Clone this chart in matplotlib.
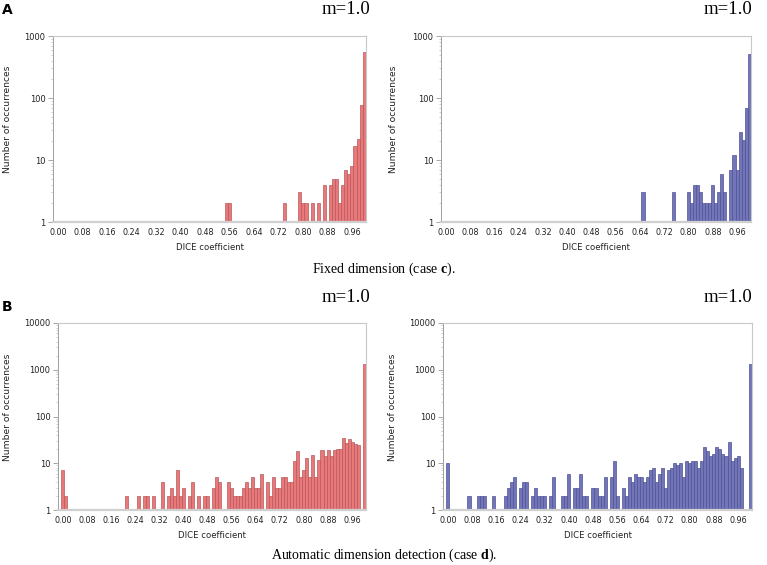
import numpy as np
import matplotlib
matplotlib.use("Agg")
import matplotlib.pyplot as plt
from matplotlib.ticker import FixedLocator, LogLocator, NullFormatter

plt.rcParams['mathtext.fontset'] = 'custom'
plt.rcParams['mathtext.rm'] = 'Liberation Serif'
plt.rcParams['mathtext.bf'] = 'Liberation Serif:bold'

# ---- data: bin index k -> DICE = k/100, counts per bin ----
bin_index = np.arange(101)
tick_index = np.arange(0, 97, 8)
tick_labels = [f"{k/100:.2f}" for k in tick_index]

# panel A left (fixed dimension, red)
a_left_bins = [55, 56, 74, 79, 80, 81, 83, 85, 87, 89, 90, 91, 92, 93, 94, 95, 96, 97, 98, 99, 100]
a_left_vals = [2, 2, 2, 3, 2, 2, 2, 2, 4, 4, 5, 5, 2, 4, 7, 6, 8, 17, 22, 78, 550]

# panel A right (fixed dimension, blue)
a_right_bins = [65, 75, 80, 81, 82, 83, 84, 85, 86, 87, 88, 89, 90, 91, 92, 94, 95, 96, 97, 98, 99, 100]
a_right_vals = [3, 3, 3, 2, 4, 4, 3, 2, 2, 2, 4, 2, 3, 6, 3, 7, 12, 7, 28, 21, 68, 520]

# panel B left (automatic dimension, red)
b_left_bins = [0, 1, 21, 25, 27, 28, 30, 33, 35, 36, 37, 38, 39, 40, 42, 43, 45, 47, 48,
               50, 51, 52, 55, 56, 57, 58, 59, 60, 61, 62, 63, 64, 65, 66, 68, 69,
               70, 71, 72, 73, 74, 75, 76, 77, 78, 79, 80, 81, 82, 83, 84, 85, 86, 87,
               88, 89, 90, 91, 92, 93, 94, 95, 96, 97, 98, 100]
b_left_vals = [7, 2, 2, 2, 2, 2, 2, 4, 2, 3, 2, 7, 2, 3, 2, 4, 2, 2, 2,
               3, 5, 4, 4, 3, 2, 2, 2, 3, 4, 3, 5, 3, 3, 6, 4, 2,
               5, 3, 3, 5, 5, 4, 4, 11, 18, 5, 7, 13, 5, 15, 5, 12, 19, 14,
               19, 14, 19, 20, 20, 34, 27, 33, 29, 26, 24, 1300]

# panel B right (automatic dimension, blue)
b_right_bins = [0, 7, 10, 11, 12, 15, 19, 20, 21, 22, 24, 25, 26, 28, 29, 30, 31, 32, 34, 35,
                38, 39, 40, 42, 43, 44, 45, 46, 48, 49, 50, 51, 52, 54, 55, 56,
                58, 59, 60, 61, 62, 63, 64, 65, 66, 67, 68, 69, 70, 71, 72, 73, 74, 75,
                76, 77, 78, 79, 80, 81, 82, 83, 84, 85, 86, 87, 88, 89, 90, 91, 92, 93,
                94, 95, 96, 97, 100]
b_right_vals = [10, 2, 2, 2, 2, 2, 2, 3, 4, 5, 3, 4, 4, 2, 3, 2, 2, 2, 2, 5,
                2, 2, 6, 3, 3, 6, 2, 2, 3, 3, 2, 2, 5, 5, 11, 2,
                3, 2, 5, 4, 6, 5, 5, 4, 5, 7, 8, 4, 6, 8, 3, 7, 8, 10,
                9, 10, 5, 11, 10, 11, 11, 8, 11, 22, 18, 14, 16, 22, 20, 16, 14, 29,
                11, 13, 14, 8, 1300]

RED, RED_EDGE = '#E8787A', '#B8585A'
BLUE, BLUE_EDGE = '#7276B8', '#4E5294'

W, H = 767, 565
fig = plt.figure(figsize=(W / 100, H / 100), dpi=100)


def px_axes(left, right, top, bottom):
    return fig.add_axes([left / W, 1 - bottom / H, (right - left) / W, (bottom - top) / H])


def draw(ax, bins, vals, ymax, fill, edge, ylab_x):
    bins = np.asarray(bins)
    vals = np.asarray(vals, dtype=float)
    ax.set_yscale('log')
    ax.bar(bins, vals - 1, bottom=1, width=1.0, color=fill, edgecolor=edge,
           linewidth=0.5, zorder=2)
    ax.set_xlim(-1.6, 100.6)
    ax.set_ylim(1, ymax)
    ax.xaxis.set_major_locator(FixedLocator(tick_index))
    ax.set_xticklabels(tick_labels)
    majors = [10 ** i for i in range(int(np.log10(ymax)) + 1)]
    ax.yaxis.set_major_locator(FixedLocator(majors))
    ax.set_yticklabels([str(m) for m in majors])
    ax.yaxis.set_minor_locator(LogLocator(base=10, subs=np.arange(2, 10)))
    ax.yaxis.set_minor_formatter(NullFormatter())
    ax.tick_params(axis='x', length=0, pad=4.5, labelsize=5.8, colors='#222222')
    ax.tick_params(axis='y', which='major', length=3.5, width=0.6, color='#999999',
                   pad=2, labelsize=6.0, labelcolor='#222222')
    ax.tick_params(axis='y', which='minor', length=1.8, width=0.5, color='#bbbbbb')
    for s in ['top', 'right']:
        ax.spines[s].set_color('#c8c8c8')
        ax.spines[s].set_linewidth(0.8)
    ax.spines['left'].set_color('#a0a0a0')
    ax.spines['left'].set_linewidth(0.7)
    ax.spines['bottom'].set_color('#cfcfcf')
    ax.spines['bottom'].set_linewidth(1.6)
    ax.set_xlabel('DICE coefficient', fontsize=6.1, color='#222222')
    ax.xaxis.set_label_coords(0.5, -0.113)
    ax.set_ylabel('Number of occurrences', fontsize=6.6, color='#222222')
    ax.yaxis.set_label_coords(ylab_x, 0.55)


ax1 = px_axes(53, 366, 36, 222)
draw(ax1, a_left_bins, a_left_vals, 1000, RED, RED_EDGE, -0.13)
ax2 = px_axes(441, 751, 36, 222)
draw(ax2, a_right_bins, a_right_vals, 1000, BLUE, BLUE_EDGE, -0.14)
ax3 = px_axes(58, 366, 323, 510)
draw(ax3, b_left_bins, b_left_vals, 10000, RED, RED_EDGE, -0.15)
ax4 = px_axes(443, 752, 323, 510)
draw(ax4, b_right_bins, b_right_vals, 10000, BLUE, BLUE_EDGE, -0.15)

serif = 'Liberation Serif'
for (x, y) in [(370, 10), (752, 10), (370, 297), (752, 297)]:
    fig.text(x / W, 1 - y / H, 'm=1.0', ha='right', va='center', family=serif, fontsize=13.5)

fig.text(2 / W, 1 - 10 / H, 'A', ha='left', va='center', fontweight='bold',
         family='DejaVu Sans', fontsize=10)
fig.text(2 / W, 1 - 307 / H, 'B', ha='left', va='center', fontweight='bold',
         family='DejaVu Sans', fontsize=10)

fig.text(384 / W, 1 - 269 / H, r'Fixed dimension (case $\mathbf{c}$).', ha='center',
         va='center', family=serif, fontsize=10)
fig.text(384 / W, 1 - 555 / H, r'Automatic dimension detection (case $\mathbf{d}$).',
         ha='center', va='center', family=serif, fontsize=10)

fig.savefig('out.png', dpi=100, facecolor='white')
